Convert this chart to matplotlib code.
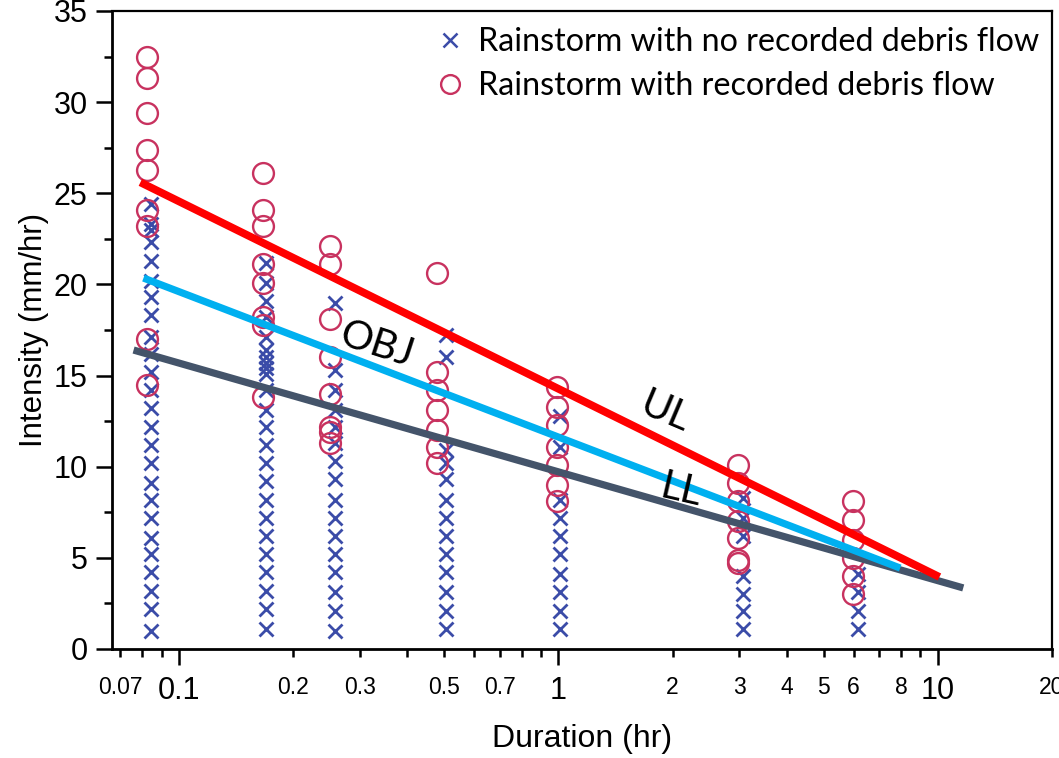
import matplotlib
matplotlib.use("Agg")
import matplotlib.pyplot as plt
import numpy as np
from matplotlib.ticker import FixedLocator, FixedFormatter
from matplotlib.lines import Line2D

# ---------------- data ----------------
# durations (hr) of the sampled rainstorm columns
dur_no = [0.0845, 0.170, 0.2585, 0.507, 1.012, 3.07, 6.17]      # no debris flow
dur_yes = [0.0825, 0.166, 0.2507, 0.480, 0.994, 2.98, 5.99]     # debris flow

# intensities (mm/hr) - rainstorms with no recorded debris flow
no_5min = [1.0, 2.2, 3.2, 4.2, 5.2, 6.1, 7.2, 8.2, 9.1, 10.2, 11.2, 12.2, 13.2,
           14.2, 15.2, 16.2, 17.1, 18.3, 19.3, 20.2, 21.3, 22.3, 23.0, 23.3, 24.4]
no_10min = [1.1, 2.2, 3.2, 4.2, 5.2, 6.2, 7.2, 8.2, 9.2, 10.2, 11.2, 12.2, 13.1,
            14.2, 15.1, 15.4, 15.7, 16.0, 16.4, 17.1, 18.2, 19.1, 20.1, 21.2]
no_15min = [1.0, 2.1, 3.1, 4.2, 5.2, 6.2, 7.2, 8.2, 9.3, 10.3, 11.3, 12.2, 13.1,
            14.2, 15.3, 19.0]
no_30min = [1.1, 2.1, 3.1, 4.2, 5.2, 6.2, 7.2, 8.2, 9.3, 10.2, 10.9, 16.0, 17.2]
no_1hr = [1.1, 2.1, 3.1, 4.1, 5.2, 6.2, 7.2, 8.2, 11.1, 12.8]
no_3hr = [1.1, 2.1, 3.0, 4.0, 6.2, 7.2, 8.3]
no_6hr = [1.1, 2.1, 3.1, 4.1]

# intensities (mm/hr) - rainstorms with recorded debris flow
yes_5min = [32.5, 31.35, 29.4, 27.4, 26.3, 24.1, 23.2, 17.0, 14.5]
yes_10min = [26.1, 24.1, 23.2, 21.1, 20.1, 18.2, 17.8, 13.8]
yes_15min = [22.1, 21.1, 18.1, 16.0, 14.0, 12.2, 11.9, 11.3]
yes_30min = [20.6, 15.2, 14.2, 13.1, 12.0, 11.1, 10.2]
yes_1hr = [14.4, 13.3, 12.3, 11.1, 10.1, 9.0, 8.1]
yes_3hr = [10.1, 9.1, 8.1, 7.0, 6.1, 4.9, 4.7]
yes_6hr = [8.1, 7.1, 6.0, 5.0, 4.0, 3.0]

# threshold lines (duration, intensity end points)
ul_dur, ul_int = [0.0791, 10.1], [25.6, 3.95]
obj_dur, obj_int = [0.0806, 7.96], [20.35, 4.44]
ll_dur, ll_int = [0.0759, 11.67], [16.4, 3.35]

major_ticks = [0.1, 1, 10]
major_labels = ["0.1", "1", "10"]
minor_ticks = [0.07, 0.08, 0.09, 0.2, 0.3, 0.4, 0.5, 0.6, 0.7, 0.8, 0.9,
               2, 3, 4, 5, 6, 7, 8, 9, 20]
minor_labels = ["0.07", "", "", "0.2", "0.3", "", "0.5", "", "0.7", "", "",
                "2", "3", "4", "5", "6", "", "8", "", "20"]
legend_labels = ["Rainstorm with no recorded debris flow",
                 "Rainstorm with recorded debris flow"]

# ---------------- figure ----------------
plt.rcParams["font.family"] = ["Liberation Sans", "DejaVu Sans"]
fig = plt.figure(figsize=(10.59, 7.58), dpi=100)
ax = fig.add_axes([0.1058, 0.1438, 0.8876, 0.8417])

cross_c = "#3B4CA8"
circ_c = "#C8325F"

no_cols = [no_5min, no_10min, no_15min, no_30min, no_1hr, no_3hr, no_6hr]
yes_cols = [yes_5min, yes_10min, yes_15min, yes_30min, yes_1hr, yes_3hr, yes_6hr]

for d, vals in zip(dur_no, no_cols):
    ax.plot([d] * len(vals), vals, linestyle="none", marker="x", ms=10.5,
            mew=2.0, color=cross_c, zorder=3)
for d, vals in zip(dur_yes, yes_cols):
    ax.plot([d] * len(vals), vals, linestyle="none", marker="o", ms=15,
            mew=1.7, mfc="none", mec=circ_c, zorder=3)

ax.plot(ll_dur, ll_int, color="#44546A", lw=5.2, solid_capstyle="butt", zorder=4)
ax.plot(obj_dur, obj_int, color="#00B0F0", lw=5.2, solid_capstyle="butt", zorder=5)
ax.plot(ul_dur, ul_int, color="#FF0000", lw=5.6, solid_capstyle="butt", zorder=6)

lab_font = ["Lato", "DejaVu Sans"]
ax.text(0.3315, 16.68, "OBJ", fontsize=29, family=lab_font, rotation=-18,
        ha="center", va="center", zorder=7)
ax.text(1.914, 13.0, "UL", fontsize=29, family=lab_font, rotation=-23,
        ha="center", va="center", zorder=7)
ax.text(2.11, 8.72, "LL", fontsize=29, family=lab_font, rotation=-13,
        ha="center", va="center", zorder=7)

ax.set_xscale("log")
ax.set_xlim(0.0666, 20)
ax.set_ylim(0, 35)

ax.xaxis.set_major_locator(FixedLocator(major_ticks))
ax.xaxis.set_major_formatter(FixedFormatter(major_labels))
ax.xaxis.set_minor_locator(FixedLocator(minor_ticks))
ax.xaxis.set_minor_formatter(FixedFormatter(minor_labels))
ax.tick_params(axis="x", which="major", length=11.5, width=1.8, pad=8,
               labelsize=22, direction="out")
ax.tick_params(axis="x", which="minor", length=5.8, width=1.8, pad=14,
               labelsize=16.5, direction="out")

ax.set_yticks(np.arange(0, 36, 5))
ax.set_yticks(np.arange(2.5, 35, 5), minor=True)
ax.tick_params(axis="y", which="major", length=11.5, width=1.8, pad=6,
               labelsize=22, direction="out")
ax.tick_params(axis="y", which="minor", length=5.8, width=1.8, direction="out")

for s in ax.spines.values():
    s.set_linewidth(1.6)
ax.spines["left"].set_linewidth(2.0)
ax.spines["bottom"].set_linewidth(2.0)

ax.set_xlabel("Duration (hr)", fontsize=23)
ax.set_ylabel("Intensity (mm/hr)", fontsize=22.5)
ax.xaxis.set_label_coords(0.5, -0.118)
ax.yaxis.set_label_coords(-0.067, 0.5)

handles = [
    Line2D([], [], linestyle="none", marker="x", ms=9.5, mew=1.8, color=cross_c),
    Line2D([], [], linestyle="none", marker="o", ms=13.5, mew=1.7, mfc="none", mec=circ_c),
]
leg = ax.legend(handles, legend_labels, loc="upper left",
                bbox_to_anchor=(0.3426, 0.975), frameon=False, borderpad=0,
                borderaxespad=0, handlelength=1.0, handletextpad=0.35,
                labelspacing=0.44, prop={"family": lab_font, "size": 23.2})

fig.savefig("out.png", dpi=100)
